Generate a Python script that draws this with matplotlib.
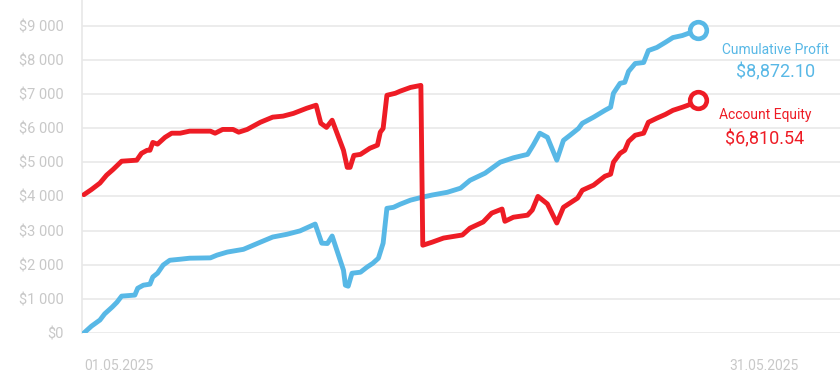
import matplotlib.pyplot as plt
from matplotlib.ticker import FuncFormatter

plt.rcParams['font.family'] = ['Roboto', 'DejaVu Sans']

# hours since 01.05.2025 00:00
profit_hours = [0, 8, 17, 22, 30, 35, 40, 54, 57, 63, 70, 73, 78, 84, 91, 102, 112, 134,
                141, 152, 169, 187, 200, 215, 229, 245, 252, 258, 263, 275, 277, 280, 284,
                293, 300, 306, 312, 317, 321, 328, 335, 346, 359, 369, 385, 399, 409, 425,
                441, 455, 470, 476, 483, 491, 501, 508, 515, 524, 528, 540, 552, 558, 561,
                568, 573, 577, 584, 593, 598, 607, 616, 624, 634, 640, 651]
profit = [0, 200, 380, 560, 760, 900, 1080, 1110, 1310, 1400, 1430, 1640, 1750, 1990, 2130,
          2160, 2190, 2200, 2280, 2370, 2450, 2660, 2810, 2890, 2990, 3190, 2630, 2620, 2840,
          1840, 1400, 1370, 1750, 1780, 1930, 2040, 2190, 2630, 3650, 3680, 3770, 3890, 3980,
          4040, 4120, 4240, 4470, 4680, 5000, 5130, 5230, 5500, 5850, 5730, 5060, 5640, 5790,
          5990, 6140, 6320, 6520, 6610, 7020, 7310, 7340, 7660, 7890, 7920, 8270, 8360, 8510,
          8650, 8710, 8770, 8872.10]

equity_hours = [0, 8, 17, 24, 31, 40, 56, 61, 67, 70, 73, 78, 86, 93, 102, 112, 134, 139,
                147, 158, 164, 173, 187, 200, 211, 222, 236, 246, 251, 257, 263, 275, 279,
                282, 286, 293, 303, 311, 314, 317, 321, 330, 335, 346, 357, 359, 369, 381,
                401, 409, 423, 432, 443, 446, 455, 470, 475, 481, 491, 501, 508, 523, 528,
                540, 552, 558, 561, 568, 573, 577, 584, 593, 598, 607, 616, 624, 634, 640, 651]
equity = [4050, 4200, 4390, 4620, 4790, 5030, 5060, 5260, 5350, 5350, 5580, 5530, 5730, 5850,
          5850, 5910, 5910, 5850, 5960, 5960, 5880, 5960, 6170, 6320, 6350, 6430, 6580, 6670,
          6140, 6020, 6230, 5350, 4850, 4850, 5200, 5230, 5410, 5500, 5880, 5990, 6960, 7020,
          7080, 7190, 7250, 2570, 2660, 2780, 2870, 3070, 3250, 3510, 3630, 3270, 3390, 3450,
          3600, 4000, 3780, 3220, 3680, 3950, 4180, 4330, 4590, 4650, 5000, 5260, 5350, 5610,
          5790, 5850, 6170, 6290, 6400, 6520, 6610, 6670, 6810.54]

date_ticks = [0, 720]
date_labels = ['01.05.2025', '31.05.2025']
y_ticks = [0, 1000, 2000, 3000, 4000, 5000, 6000, 7000, 8000, 9000]

blue = '#58b8e6'
red = '#ee1c25'
grey_text = '#c8c8c8'

fig = plt.figure(figsize=(8.4, 3.83), dpi=100)
ax = fig.add_axes([82 / 840, 50 / 383, 1 - 82 / 840, 333 / 383])

ax.plot(profit_hours, profit, color=blue, lw=3.5, solid_capstyle='round',
        solid_joinstyle='round', zorder=3)
ax.plot(equity_hours, equity, color=red, lw=3.5, solid_capstyle='round',
        solid_joinstyle='round', zorder=4)
ax.plot(profit_hours[-1], profit[-1], 'o', ms=12, mew=3.3, mfc='white', mec=blue, zorder=5)
ax.plot(equity_hours[-1], equity[-1], 'o', ms=12, mew=3.3, mfc='white', mec=red, zorder=5)

ax.set_xlim(-2, 801)
ax.set_ylim(0, 9750)
ax.set_yticks(y_ticks)
ax.yaxis.set_major_formatter(FuncFormatter(lambda v, p: '$' + f'{v:,.0f}'.replace(',', ' ')))
ax.set_xticks(date_ticks)
ax.set_xticklabels(date_labels)
ax.get_xticklabels()[0].set_horizontalalignment('left')

ax.grid(axis='y', color='#ececec', lw=1.4)
ax.set_axisbelow(True)
for s in ['top', 'right', 'bottom']:
    ax.spines[s].set_visible(False)
ax.spines['left'].set_color('#e8e8e8')
ax.spines['left'].set_linewidth(1.2)
ax.tick_params(axis='y', length=0, pad=13, labelsize=10.5, labelcolor=grey_text)
ax.tick_params(axis='x', length=0, pad=19, labelsize=10, labelcolor=grey_text)

# end-value labels
fig.text(775 / 840, 1 - 50 / 383, 'Cumulative Profit', color=blue, fontsize=10,
         ha='center', va='center')
fig.text(776 / 840, 1 - 72 / 383, '$8,872.10', color=blue, fontsize=13,
         ha='center', va='center')
fig.text(765 / 840, 1 - 115 / 383, 'Account Equity', color=red, fontsize=10,
         ha='center', va='center')
fig.text(765 / 840, 1 - 139 / 383, '$6,810.54', color=red, fontsize=13,
         ha='center', va='center')

fig.savefig('out.png', dpi=100)
